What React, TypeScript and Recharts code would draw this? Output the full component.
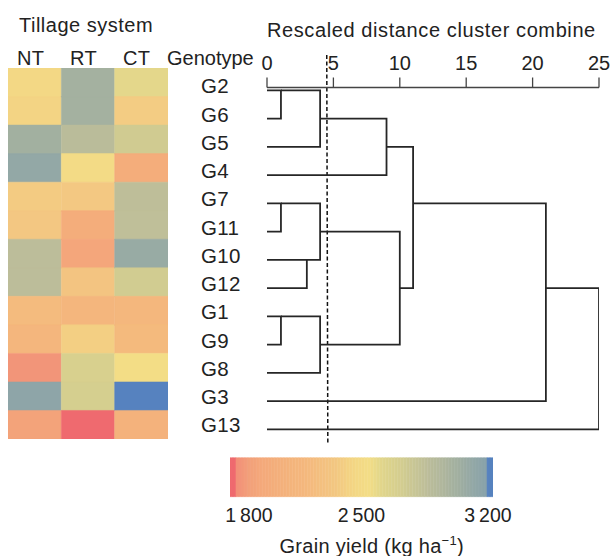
import React from 'react';
import {
  BarChart,
  Bar,
  Cell,
  XAxis,
  YAxis,
  ComposedChart,
  Line,
  ReferenceLine,
} from 'recharts';

// genotypes in dendrogram order (top to bottom)
const genotypes = ['G2', 'G6', 'G5', 'G4', 'G7', 'G11', 'G10', 'G12', 'G1', 'G9', 'G8', 'G3', 'G13'];
const tillage = ['NT', 'RT', 'CT'];

// grain yield (kg/ha)
const yieldNT = [2480, 2430, 3030, 3120, 2370, 2340, 2870, 2870, 2190, 2100, 1750, 3150, 1830];
const yieldRT = [3020, 3020, 2880, 2520, 2350, 1950, 1850, 2300, 2100, 2400, 2680, 2700, 1700];
const yieldCT = [2600, 2380, 2740, 1950, 2860, 2850, 3090, 2730, 2130, 2170, 2540, 3220, 2030];

// dendrogram joins: [rowA, startA, rowB, startB, distance]
const merges: number[][] = [
  [0, 0, 1, 0, 1.05],
  [0, 1.05, 2, 0, 4.0],
  [1, 4.0, 3, 0, 9.0],
  [4, 0, 5, 0, 1.05],
  [6, 0, 7, 0, 3.0],
  [4, 1.05, 6, 3.0, 4.0],
  [8, 0, 9, 0, 1.05],
  [8, 1.05, 10, 0, 4.0],
  [5, 4.0, 9, 4.0, 10.0],
  [2, 9.0, 7, 10.0, 11.0],
  [4, 11.0, 11, 0, 21.0],
  [7, 21.0, 12, 0, 25.0],
];
const distanceTicks = [0, 5, 10, 15, 20, 25];
const cutoff = [4.5, 4.58];

// colour scale
const stopYield = [1712, 1724, 1800, 1890, 2030, 2150, 2240, 2350, 2440, 2540, 2620, 2720, 2870, 3030, 3150, 3192, 3200];
const stopColor = [
  '#ef6a6f', '#f28f78', '#f3a07a', '#f4aa7b', '#f4b27c', '#f4b87d', '#f4bf7f', '#f3c882',
  '#f3d584', '#f3dd86', '#dfd58c', '#d3cd90', '#bcbd9a', '#a2b0a0', '#8ea5a8', '#88a2aa', '#5682bf',
];
const legendTicks = [1800, 2500, 3200];
const legendLabels = ['1\u2009800', '2\u2009500', '3\u2009200'];

const FONT = '"Liberation Sans", Arial, Helvetica, sans-serif';

const hex = (c: string) => [1, 3, 5].map((i) => parseInt(c.slice(i, i + 2), 16));
const colorOf = (v: number): string => {
  if (v <= stopYield[0]) return stopColor[0];
  const n = stopYield.length;
  if (v >= stopYield[n - 1]) return stopColor[n - 1];
  let i = 0;
  while (v > stopYield[i + 1]) i++;
  const t = (v - stopYield[i]) / (stopYield[i + 1] - stopYield[i]);
  const a = hex(stopColor[i]);
  const b = hex(stopColor[i + 1]);
  const m = a.map((x, k) => Math.round(x + (b[k] - x) * t));
  return `rgb(${m[0]},${m[1]},${m[2]})`;
};

// colour bar position (0..1) <-> yield; 2500 sits in the middle
const P_LO = 0.0722;
const P_HI = 0.981;
const posOf = (v: number) =>
  v <= 2500 ? 0.5 - ((2500 - v) / 700) * (0.5 - P_LO) : 0.5 + ((v - 2500) / 700) * (P_HI - 0.5);
const yieldAt = (p: number) =>
  p <= 0.5 ? 2500 - ((0.5 - p) / (0.5 - P_LO)) * 700 : 2500 + ((p - 0.5) / (P_HI - 0.5)) * 700;

const heatRows = genotypes.map((g) => ({ genotype: g, NT: 1, RT: 1, CT: 1 }));
const heatYields: Record<string, number[]> = { NT: yieldNT, RT: yieldRT, CT: yieldCT };

const branchData = merges.map(([ra, sa, rb, sb, d]) => [
  { x: sa, y: ra },
  { x: d, y: ra },
  { x: d, y: rb },
  { x: sb, y: rb },
]);

// colour bar: one stacked row of equal-width bands
const BAND_COUNT = 88;
const bandKeys = Array.from({ length: BAND_COUNT }, (_, i) => `b${i}`);
const bandColors = bandKeys.map((_, i) => colorOf(yieldAt((i + 0.5) / BAND_COUNT)));
const bandRow = [Object.fromEntries([['name', 'bar'], ...bandKeys.map((k) => [k, 1 / BAND_COUNT])])];

const GenotypeTick = (props: any) => {
  const { x, y, payload } = props;
  return (
    <text x={x - 66} y={y + 3} fontSize={20.5} fill="#222" fontFamily={FONT} letterSpacing={0.3}>
      {genotypes[payload.value]}
    </text>
  );
};

export default function App() {
  return (
    <div
      style={{
        position: 'absolute',
        left: 0,
        top: 0,
        width: 612,
        height: 556,
        background: '#fff',
        fontFamily: FONT,
        overflow: 'hidden',
      }}
    >
      {/* heat map */}
      <div style={{ position: 'absolute', left: 8, top: 68.3 }}>
        <BarChart
          width={160}
          height={371}
          data={heatRows}
          layout="vertical"
          margin={{ top: 0, right: 0, bottom: 0, left: 0 }}
          barCategoryGap={0}
          barGap={0}
        >
          <XAxis type="number" domain={[0, 3]} hide />
          <YAxis type="category" dataKey="genotype" hide />
          {tillage.map((t) => (
            <Bar key={t} dataKey={t} stackId="s" isAnimationActive={false}>
              {heatYields[t].map((v, i) => (
                <Cell key={i} fill={colorOf(v)} stroke={colorOf(v)} strokeWidth={0.5} />
              ))}
            </Bar>
          ))}
        </BarChart>
      </div>

      {/* dendrogram */}
      <div style={{ position: 'absolute', left: 0, top: 0 }}>
        <ComposedChart width={612} height={556} margin={{ top: 57.5, right: 13, bottom: 112.5, left: 201 }}>
          <XAxis
            type="number"
            dataKey="x"
            orientation="top"
            domain={[0, 25]}
            ticks={distanceTicks}
            height={30}
            tickSize={10}
            tickMargin={8}
            axisLine={{ stroke: '#444', strokeWidth: 1.3 }}
            tickLine={{ stroke: '#444', strokeWidth: 1.3 }}
            tick={{ fontSize: 20, fill: '#222', fontFamily: FONT }}
            allowDataOverflow
          />
          <YAxis
            type="number"
            dataKey="y"
            domain={[-0.1, 12.5]}
            reversed
            ticks={genotypes.map((_, i) => i)}
            interval={0}
            width={66}
            tickSize={0}
            tickMargin={0}
            axisLine={false}
            tickLine={false}
            tick={<GenotypeTick />}
            allowDataOverflow
          />
          <ReferenceLine
            segment={[
              { x: cutoff[0], y: -1.25 },
              { x: cutoff[1], y: 12.5 },
            ]}
            stroke="#111"
            strokeWidth={1.5}
            strokeDasharray="4 2.5"
            ifOverflow="visible"
          />
          {branchData.map((pts, i) => (
            <Line
              key={i}
              data={pts}
              dataKey="y"
              type="linear"
              stroke="#262626"
              strokeWidth={1.8}
              dot={false}
              activeDot={false}
              isAnimationActive={false}
            />
          ))}
        </ComposedChart>
      </div>

      {/* colour bar */}
      <div style={{ position: 'absolute', left: 210, top: 450 }}>
        <BarChart
          width={303}
          height={88}
          data={bandRow}
          layout="vertical"
          margin={{ top: 7.7, right: 20, bottom: 0, left: 20 }}
          barCategoryGap={0}
          barGap={0}
        >
          <XAxis
            type="number"
            domain={[0, 1]}
            ticks={legendTicks.map(posOf)}
            tickFormatter={(p: number) => legendLabels[legendTicks.findIndex((v) => Math.abs(posOf(v) - p) < 1e-6)]}
            height={41.3}
            tickSize={0}
            tickMargin={11}
            axisLine={false}
            tickLine={false}
            tick={{ fontSize: 19.5, fill: '#222', fontFamily: FONT }}
            allowDataOverflow
          />
          <YAxis type="category" dataKey="name" hide />
          {bandKeys.map((k, i) => (
            <Bar
              key={k}
              dataKey={k}
              stackId="c"
              fill={bandColors[i]}
              stroke={bandColors[i]}
              strokeWidth={0.5}
              isAnimationActive={false}
            />
          ))}
        </BarChart>
      </div>

      {/* headings */}
      <svg
        width={612}
        height={556}
        style={{ position: 'absolute', left: 0, top: 0, pointerEvents: 'none' }}
        fontFamily={FONT}
        fill="#222"
      >
        <text x={19} y={31.7} fontSize={20} letterSpacing={0.5}>Tillage system</text>
        <text x={17} y={65} fontSize={20} letterSpacing={0.3}>NT</text>
        <text x={70} y={65} fontSize={20} letterSpacing={0.3}>RT</text>
        <text x={123} y={65} fontSize={20} letterSpacing={0.3}>CT</text>
        <text x={167} y={65} fontSize={20}>Genotype</text>
        <text x={267} y={37.3} fontSize={20} letterSpacing={0.6}>Rescaled distance cluster combine</text>
        <text x={371.7} y={553} fontSize={20} textAnchor="middle" letterSpacing={0.3}>
          Grain yield (kg ha
          <tspan fontSize={13} dy={-8}>{'\u22121'}</tspan>
          <tspan dy={8}>)</tspan>
        </text>
      </svg>
    </div>
  );
}
